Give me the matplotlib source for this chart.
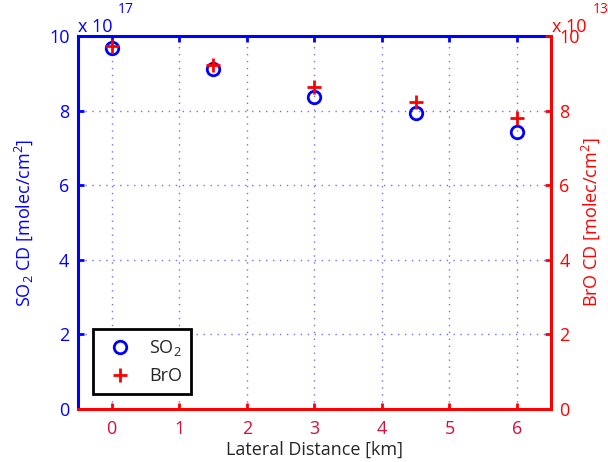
import numpy as np
import matplotlib
matplotlib.use("Agg")
import matplotlib.pyplot as plt
from matplotlib.ticker import FuncFormatter

# values
distance_km = [0, 1.5, 3, 4.5, 6]
so2_cd = np.array([9.69, 9.11, 8.37, 7.93, 7.43]) * 1e17   # molec/cm^2
bro_cd = np.array([9.74, 9.22, 8.62, 8.22, 7.81]) * 1e13   # molec/cm^2
x_ticks = [0, 1, 2, 3, 4, 5, 6]
y_ticks = [0, 2, 4, 6, 8, 10]

BLUE = "#0000ff"
RED = "#ff0000"
XLAB = "#d4103c"
TXT = "#262626"

plt.rcParams["font.family"] = ["Open Sans", "DejaVu Sans"]
plt.rcParams["mathtext.fontset"] = "custom"
plt.rcParams["mathtext.rm"] = "Open Sans"

fig = plt.figure(figsize=(6.08, 4.62), dpi=100)
ax1 = fig.add_subplot(111)
fig.subplots_adjust(left=0.128, right=0.906, top=0.922, bottom=0.115)
ax2 = ax1.twinx()

l1, = ax1.plot(distance_km, so2_cd, "o", mfc="none", mec=BLUE, mew=2,
               ms=9, label="SO$_2$")
l2, = ax2.plot(distance_km, bro_cd, "+", mec=RED, mew=2, ms=10, label="BrO")

ax1.set_xlim(-0.5, 6.5)
ax1.set_ylim(0, 10e17)
ax2.set_ylim(0, 10e13)
ax1.set_xticks(x_ticks)
ax1.set_yticks([v * 1e17 for v in y_ticks])
ax2.set_yticks([v * 1e13 for v in y_ticks])
ax1.yaxis.set_major_formatter(FuncFormatter(lambda v, p: "%g" % (v / 1e17)))
ax2.yaxis.set_major_formatter(FuncFormatter(lambda v, p: "%g" % (v / 1e13)))

ax1.grid(True, linestyle=(0, (1, 4)), color="#7070ff", linewidth=1)

# spines: blue for the SO2 axes, red for the BrO axes
for s in ["left", "top"]:
    ax1.spines[s].set_color(BLUE)
    ax1.spines[s].set_linewidth(2.2)
for s in ["right", "bottom"]:
    ax1.spines[s].set_visible(False)
for s in ["right", "bottom"]:
    ax2.spines[s].set_color(RED)
    ax2.spines[s].set_linewidth(2.2)
for s in ["left", "top"]:
    ax2.spines[s].set_visible(False)

ax1.tick_params(axis="y", direction="in", colors=BLUE, length=4, width=2,
                labelsize=13, pad=6)
ax1.tick_params(axis="x", direction="in", bottom=False, top=True,
                labelbottom=True, color=BLUE, labelcolor=XLAB, length=4,
                width=2, labelsize=13, pad=8)
ax2.xaxis.set_visible(True)
ax2.tick_params(axis="x", direction="in", bottom=True, top=False,
                labelbottom=False, color=RED, length=4, width=2)
ax2.tick_params(axis="y", direction="in", colors=RED, length=4, width=2,
                labelsize=13, pad=6)

ax1.set_xlabel("Lateral Distance [km]", color=TXT, fontsize=13, labelpad=2)
ax1.set_ylabel("SO$_2$ CD [molec/cm$^2$]", color=BLUE, fontsize=13,
               labelpad=10)
ax2.set_ylabel("BrO CD [molec/cm$^2$]", color=RED, fontsize=13, labelpad=0)

# exponent labels, MATLAB style
ax1.text(0.0, 1.0, "x 10", transform=ax1.transAxes, color=BLUE,
         fontsize=13, ha="left", va="bottom")
ax1.text(0.085, 1.052, "17", transform=ax1.transAxes, color=BLUE,
         fontsize=10, ha="left", va="bottom")
ax2.text(1.002, 1.0, "x 10", transform=ax2.transAxes, color=RED,
         fontsize=13, ha="left", va="bottom")
ax2.text(1.089, 1.052, "13", transform=ax2.transAxes, color=RED,
         fontsize=10, ha="left", va="bottom")

leg = ax2.legend([l1, l2], ["SO$_2$", "BrO"], loc="lower left",
                 bbox_to_anchor=(0.032, 0.04), borderaxespad=0, fontsize=13,
                 fancybox=False, edgecolor="black", framealpha=1,
                 handletextpad=0.6, borderpad=0.5, labelspacing=0.5)
leg.get_frame().set_linewidth(2)
for t in leg.get_texts():
    t.set_color(TXT)

fig.savefig("out.png", dpi=100)
